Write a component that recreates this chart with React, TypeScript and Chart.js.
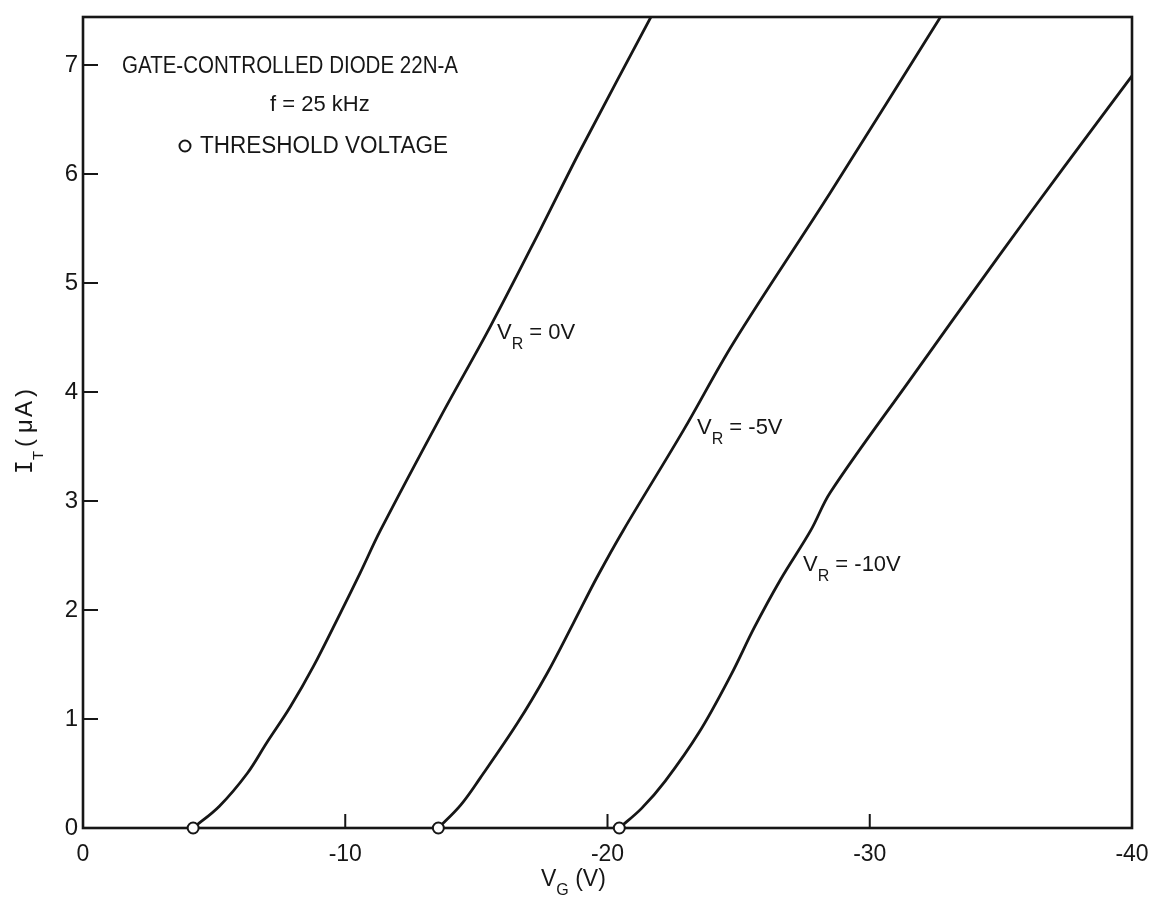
import React, { useEffect, useRef } from "react";
import { Chart, registerables } from "chart.js";

Chart.register(...registerables);

// ---- data ----
const vgR0 = [-4.2, -5.2, -6.26, -7.0, -7.9, -8.78, -9.81, -10.57, -11.34, -13.63, -15.53, -17.44, -18.97, -21.7];
const itR0 = [0, 0.2, 0.5, 0.78, 1.11, 1.48, 1.97, 2.34, 2.73, 3.77, 4.6, 5.49, 6.22, 7.46];

const vgR5 = [-13.55, -14.4, -15.15, -16.56, -17.7, -18.7, -19.6, -20.6, -22.9, -24.8, -28.5, -32.75];
const itR5 = [0, 0.21, 0.46, 0.96, 1.42, 1.88, 2.3, 2.73, 3.65, 4.45, 5.83, 7.46];

const vgR10 = [-20.45, -21.3, -22.2, -23.5, -24.7, -25.6, -26.6, -27.75, -28.5, -31.5, -34.9, -37.4, -40.0];
const itR10 = [0, 0.18, 0.43, 0.88, 1.4, 1.84, 2.28, 2.73, 3.08, 4.1, 5.24, 6.06, 6.9];

const thresholdVg = [-4.2, -13.55, -20.45];

const xTicks = [0, -10, -20, -30, -40];
const yTicks = [0, 1, 2, 3, 4, 5, 6, 7];

const seriesNames = ["0V", "-5V", "-10V"];
const noteLines = ["GATE-CONTROLLED DIODE 22N-A", "f = 25 kHz", "THRESHOLD VOLTAGE"];

const FONT = "'Liberation Sans', Arial, sans-serif";
const INK = "#161616";

function sub(ctx: CanvasRenderingContext2D, x: number, y: number, main: string, s: string, rest: string, size: number, subSize: number, drop: number) {
  ctx.font = `${size}px ${FONT}`;
  ctx.fillText(main, x, y);
  let cx = x + ctx.measureText(main).width;
  ctx.font = `${subSize}px ${FONT}`;
  ctx.fillText(s, cx, y + drop);
  cx += ctx.measureText(s).width;
  ctx.font = `${size}px ${FONT}`;
  ctx.fillText(rest, cx, y);
}

const decor = {
  id: "decor",
  beforeDatasetsDraw(chart: any) {
    const { ctx, chartArea: a, scales } = chart;
    const xs = scales.x;
    const ys = scales.y;
    ctx.save();
    ctx.strokeStyle = INK;
    ctx.lineWidth = 2.6;
    ctx.strokeRect(a.left, a.top, a.right - a.left, a.bottom - a.top);
    ctx.lineWidth = 2;
    ctx.beginPath();
    yTicks.forEach((v) => {
      if (v === 0) return;
      const py = ys.getPixelForValue(v);
      ctx.moveTo(a.left, py);
      ctx.lineTo(a.left + 15, py);
    });
    xTicks.forEach((v) => {
      if (v === 0 || v === -40) return;
      const px = xs.getPixelForValue(v);
      ctx.moveTo(px, a.bottom);
      ctx.lineTo(px, a.bottom - 14);
    });
    ctx.stroke();
    ctx.restore();
  },
  afterDraw(chart: any) {
    const { ctx } = chart;
    ctx.save();
    ctx.fillStyle = INK;
    ctx.strokeStyle = INK;
    ctx.textBaseline = "alphabetic";
    ctx.textAlign = "left";

    // note block
    ctx.font = `23px ${FONT}`;
    ctx.fillText(noteLines[0], 122, 73, 336);
    ctx.font = `22px ${FONT}`;
    ctx.fillText(noteLines[1], 270, 111, 108);
    ctx.font = `23px ${FONT}`;
    ctx.fillText(noteLines[2], 200, 153, 248);
    ctx.lineWidth = 2;
    ctx.beginPath();
    ctx.arc(185, 146, 5.5, 0, Math.PI * 2);
    ctx.stroke();

    // curve labels
    sub(ctx, 497, 339, "V", "R", " = " + seriesNames[0], 22, 16, 10);
    sub(ctx, 697, 434, "V", "R", " = " + seriesNames[1], 22, 16, 10);
    sub(ctx, 803, 571, "V", "R", " = " + seriesNames[2], 22, 16, 10);

    // x title
    sub(ctx, 541, 886, "V", "G", " (V)", 23, 16, 9);

    // y title (rotated)
    ctx.save();
    ctx.rotate(-Math.PI / 2);
    ctx.font = `23px 'DejaVu Sans Mono', monospace`;
    ctx.fillText("I", -474, 32);
    ctx.font = `15px ${FONT}`;
    ctx.fillText("T", -460, 43);
    ctx.font = `24px ${FONT}`;
    ctx.fillText("(", -447, 32);
    ctx.fillText("\u03BC", -433, 32);
    ctx.fillText("A", -417, 32);
    ctx.fillText(")", -397, 32);
    ctx.restore();

    ctx.restore();
  },
};

export default function App() {
  const ref = useRef<HTMLCanvasElement | null>(null);
  useEffect(() => {
    if (!ref.current) return;
    const curve = (xs: number[], ys: number[]) => xs.map((x, i) => ({ x, y: ys[i] }));
    const lineStyle = {
      showLine: true,
      borderColor: INK,
      borderWidth: 2.8,
      pointRadius: 0,
      tension: 0.35,
      fill: false,
    };
    const chart = new Chart(ref.current, {
      type: "scatter",
      data: {
        datasets: [
          {
            label: "threshold",
            data: thresholdVg.map((x) => ({ x, y: 0 })),
            pointRadius: 5.5,
            pointBackgroundColor: "#ffffff",
            pointBorderColor: INK,
            pointBorderWidth: 2,
            showLine: false,
            clip: false,
          } as any,
          { label: "VR=" + seriesNames[0], data: curve(vgR0, itR0), ...lineStyle },
          { label: "VR=" + seriesNames[1], data: curve(vgR5, itR5), ...lineStyle },
          { label: "VR=" + seriesNames[2], data: curve(vgR10, itR10), ...lineStyle },
        ],
      },
      options: {
        animation: false,
        responsive: false,
        devicePixelRatio: 1,
        layout: { padding: { left: 0, right: 20, top: 17, bottom: 0 } },
        plugins: { legend: { display: false }, tooltip: { enabled: false } },
        events: [],
        scales: {
          x: {
            type: "linear",
            min: -40,
            max: 0,
            reverse: true,
            grid: { display: false, drawTicks: false },
            border: { display: false },
            afterBuildTicks: (s: any) => {
              s.ticks = xTicks.map((v) => ({ value: v }));
            },
            afterFit: (s: any) => {
              s.height = 75;
              s.paddingLeft = 0;
              s.paddingRight = 0;
            },
            ticks: {
              color: INK,
              padding: 13,
              maxRotation: 0,
              autoSkip: false,
              font: { family: FONT, size: 23 },
              callback: (v: any) => (Number(v) === 0 ? "0" : "-" + Math.abs(Number(v))),
            },
          },
          y: {
            type: "linear",
            min: 0,
            max: 7.44,
            grid: { display: false, drawTicks: false },
            border: { display: false },
            afterBuildTicks: (s: any) => {
              s.ticks = yTicks.map((v) => ({ value: v }));
            },
            afterFit: (s: any) => {
              s.width = 83;
              s.paddingTop = 0;
              s.paddingBottom = 0;
            },
            ticks: {
              color: INK,
              padding: 5,
              autoSkip: false,
              font: { family: FONT, size: 24 },
              callback: (v: any) => String(v),
            },
          },
        },
      },
      plugins: [decor],
    });
    return () => chart.destroy();
  }, []);
  return (
    <div style={{ position: "absolute", left: 0, top: 0, width: 1152, height: 903, background: "#fff" }}>
      <canvas ref={ref} width={1152} height={903} style={{ display: "block" }} />
    </div>
  );
}
